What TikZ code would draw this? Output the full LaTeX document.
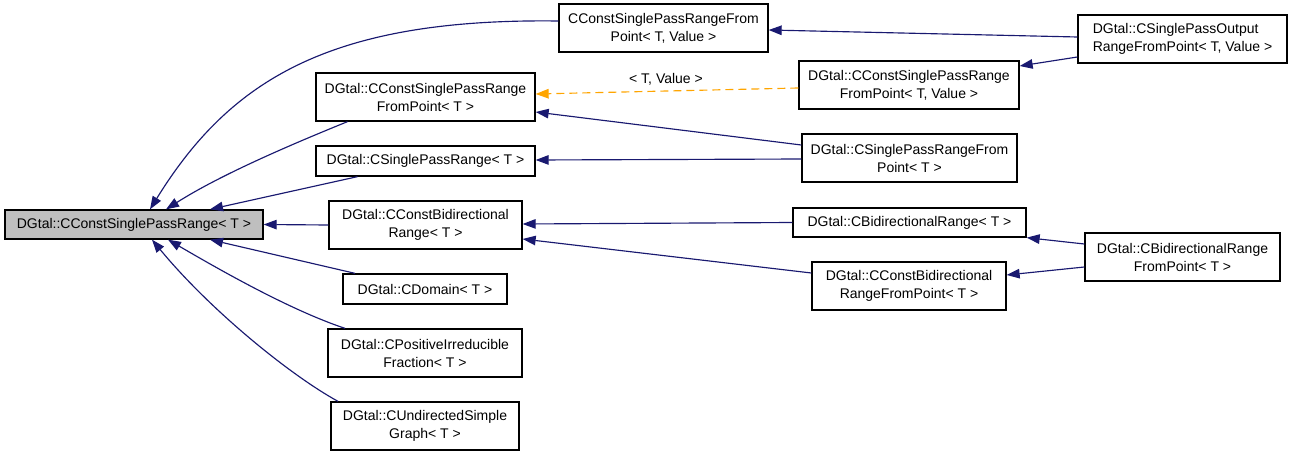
\documentclass[tikz,border=0pt]{standalone}
\usepackage{fontspec}
\setmainfont{Liberation Sans}
\usetikzlibrary{arrows.meta,calc}
\definecolor{edgeblue}{RGB}{25,25,112}
\definecolor{dashorange}{RGB}{255,165,0}
\definecolor{maingray}{RGB}{191,191,191}
\begin{document}
\begin{tikzpicture}[x=1pt,y=-1pt,
  box/.style={draw=black,line width=1.3pt,fill=white,inner sep=0pt,align=center,
    font=\fontsize{14pt}{18pt}\selectfont},
  edge/.style={draw=edgeblue,line width=1.15pt,-{Triangle[length=13pt,width=9.5pt]}},
  tmpl/.style={draw=dashorange,line width=1.15pt,dash pattern=on 8pt off 5pt,
    -{Triangle[length=13pt,width=9.5pt]}},
  lbl/.style={inner sep=0pt,font=\fontsize{14pt}{18pt}\selectfont}]
\useasboundingbox (0,0) rectangle (1293,457);
% nodes
\node[box,fill=maingray,minimum width=258pt,minimum height=29pt] (main) at (134,224.5) {DGtal::CConstSinglePassRange< T >};
\node[box,minimum width=209pt,minimum height=48pt] (A) at (663.5,28) {CConstSinglePassRangeFrom\\Point< T, Value >};
\node[box,minimum width=219pt,minimum height=48pt] (B) at (425.5,97) {DGtal::CConstSinglePassRange\\FromPoint< T >};
\node[box,minimum width=219pt,minimum height=30pt] (C) at (425.5,161) {DGtal::CSinglePassRange< T >};
\node[box,minimum width=193pt,minimum height=48pt] (D) at (425.5,225) {DGtal::CConstBidirectional\\Range< T >};
\node[box,minimum width=164pt,minimum height=30pt] (E) at (425,289) {DGtal::CDomain< T >};
\node[box,minimum width=194pt,minimum height=48pt] (F) at (425,353) {DGtal::CPositiveIrreducible\\Fraction< T >};
\node[box,minimum width=188pt,minimum height=48pt] (G) at (425,426) {DGtal::CUndirectedSimple\\Graph< T >};
\node[box,minimum width=220pt,minimum height=48pt] (H) at (909,85) {DGtal::CConstSinglePassRange\\FromPoint< T, Value >};
\node[box,minimum width=215pt,minimum height=48pt] (I) at (909.5,158) {DGtal::CSinglePassRangeFrom\\Point< T >};
\node[box,align=left,minimum width=209pt,minimum height=48pt] (J) at (1182.5,39) {DGtal::CSinglePassOutput\\RangeFromPoint< T, Value >};
\node[box,minimum width=233pt,minimum height=29pt] (K) at (909.5,222.5) {DGtal::CBidirectionalRange< T >};
\node[box,minimum width=194pt,minimum height=48pt] (L) at (909,286) {DGtal::CConstBidirectional\\RangeFromPoint< T >};
\node[box,minimum width=195pt,minimum height=48pt] (M) at (1182.5,257) {DGtal::CBidirectionalRange\\FromPoint< T >};
\node[lbl] (tv) at (666,79) {< T, Value >};
% edges
\draw[edge] ($(A.west)+(0,-7)$) .. controls (330,18) and (230,80) .. ($(main.north)+(16,0)$);
\draw[edge] ($(B.south)+(-78,0)$) .. controls (290,145) and (220,175) .. ($(main.north)+(32,0)$);
\draw[edge] ($(C.south)+(-68,0)$) -- ($(main.north)+(76,0)$);
\draw[edge] (D.west) -- (main.east);
\draw[edge] ($(E.north)+(-70,0)$) -- ($(main.south)+(76,0)$);
\draw[edge] ($(F.north)+(-80,0)$) .. controls (290,310) and (220,270) .. ($(main.south)+(34,0)$);
\draw[edge] ($(G.north)+(-87,0)$) .. controls (290,375) and (210,310) .. ($(main.south)+(18,0)$);
\draw[edge] ($(J.west)+(0,-2)$) -- ($(A.east)+(0,2)$);
\draw[edge] ($(J.west)+(0,18)$) -- ($(H.east)+(0,-19)$);
\draw[tmpl] ($(H.west)+(0,3)$) -- ($(B.east)+(0,-3)$);
\draw[edge] ($(I.west)+(0,-13)$) -- ($(B.east)+(0,15)$);
\draw[edge] ($(I.west)+(0,1)$) -- ($(C.east)+(0,-1)$);
\draw[edge] (K.west) -- ($(D.east)+(0,-1)$);
\draw[edge] ($(L.west)+(0,-13)$) -- ($(D.east)+(0,14)$);
\draw[edge] ($(M.west)+(0,-13)$) -- (K.south east);
\draw[edge] ($(M.west)+(0,10)$) -- ($(L.east)+(0,-11)$);
\end{tikzpicture}
\end{document}
